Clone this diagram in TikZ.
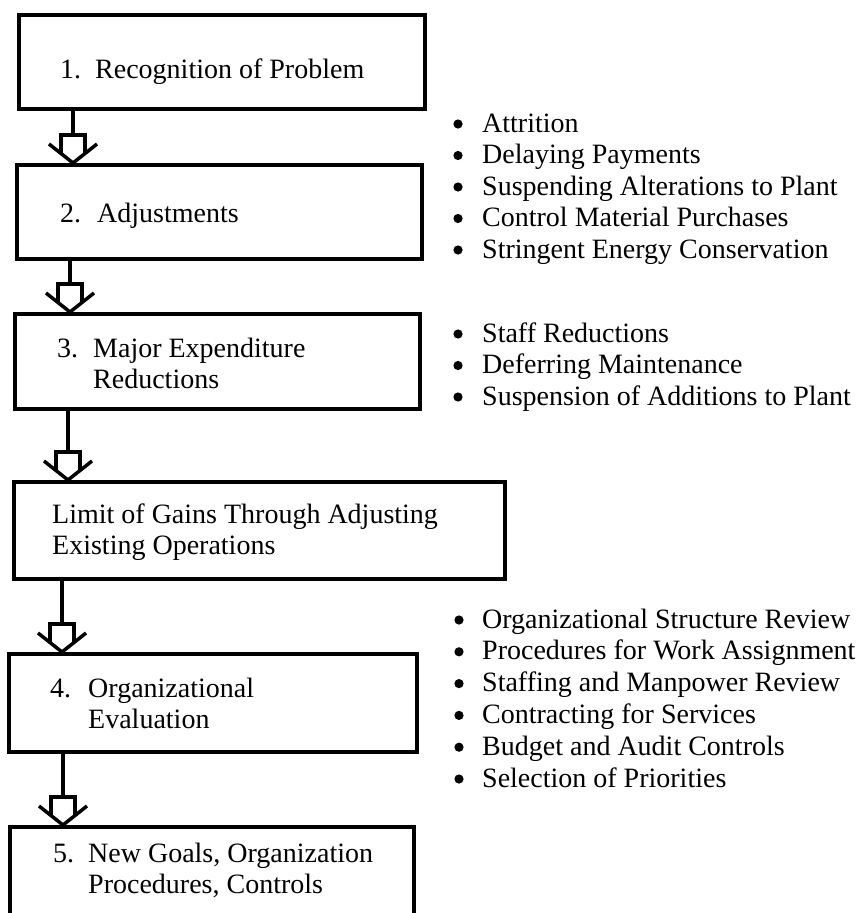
\documentclass[tikz,border=0pt]{standalone}
\usepackage{fontspec}
\setmainfont{Liberation Serif}
\tikzset{
  box/.style={draw, line width=3.5pt, rectangle, inner sep=0pt, anchor=north west},
  boxtext/.style={anchor=base west, inner sep=0pt, font=\fontsize{28}{31.5}\selectfont},
  listtext/.style={anchor=base west, inner sep=0pt, font=\fontsize{28}{31.5}\selectfont},
  stemline/.style={line width=3.5pt},
  headline/.style={line width=3.5pt, line join=miter},
  bulletdot/.style={fill=black},
}
\newcommand\flowarrow[3]{%
  \coordinate (tip#2) at (#3,0 |- #2.north);
  \draw[stemline] (#3,0 |- #1.south) -- ([shift={(0,-28)}]tip#2);
  \draw[headline] ([shift={(-24,-19)}]tip#2) -- (tip#2) -- ([shift={(24,-19)}]tip#2);
  \draw[headline] ([shift={(-12,-9.5)}]tip#2) -- ([shift={(-12,-28)}]tip#2) -- ([shift={(12,-28)}]tip#2) -- ([shift={(12,-9.5)}]tip#2);
}
\begin{document}
\begin{tikzpicture}[x=1pt,y=-1pt]
\useasboundingbox (0,0) rectangle (856,913);
\fill[white] (0,0) rectangle (856,913);
\clip (0,0) rectangle (856,913);

% boxes
\node[box, minimum width=406pt, minimum height=94pt] (b1) at (17,13) {};
\node[box, minimum width=405pt, minimum height=94pt] (b2) at (15,163) {};
\node[box, minimum width=405pt, minimum height=95pt] (b3) at (13,312) {};
\node[box, minimum width=491pt, minimum height=97pt] (b4) at (12,480) {};
\node[box, minimum width=408pt, minimum height=98pt] (b5) at (7,652) {};
\node[box, minimum width=404pt, minimum height=150pt] (b6) at (8,825) {};

% box texts
\node[boxtext] (t1) at (60,78) {\begin{tabular}[t]{@{}l@{}l@{}}\makebox[35pt][l]{1.}&Recognition of Problem\end{tabular}};
\node[boxtext] (t2) at (60,222) {\begin{tabular}[t]{@{}l@{}l@{}}\makebox[37pt][l]{2.}&Adjustments\end{tabular}};
\node[boxtext] (t3) at (57,357) {\begin{tabular}[t]{@{}l@{}l@{}}\makebox[36pt][l]{3.}&Major Expenditure\\&Reductions\end{tabular}};
\node[boxtext] (t4) at (52,523) {\begin{tabular}[t]{@{}l@{}}Limit of Gains Through Adjusting\\Existing Operations\end{tabular}};
\node[boxtext] (t5) at (50,697) {\begin{tabular}[t]{@{}l@{}l@{}}\makebox[38pt][l]{4.}&Organizational\\&Evaluation\end{tabular}};
\node[boxtext] (t6) at (53,862) {\begin{tabular}[t]{@{}l@{}l@{}}\makebox[35pt][l]{5.}&New Goals, Organization\\&Procedures, Controls\end{tabular}};

% connectors
\flowarrow{b1}{b2}{73}
\flowarrow{b2}{b3}{70}
\flowarrow{b3}{b4}{68}
\flowarrow{b4}{b5}{62}
\flowarrow{b5}{b6}{63}

% lists
\node[listtext] (l1) at (482,132) {\begin{tabular}[t]{@{}l@{}}
Attrition\\
Delaying Payments\\
Suspending Alterations to Plant\\
Control Material Purchases\\
Stringent Energy Conservation
\end{tabular}};
\foreach \yy in {0,1,2,3,4} \fill[bulletdot] (458,124+31.5*\yy) circle (4.6);
\node[listtext] (l2) at (482,342) {\begin{tabular}[t]{@{}l@{}}
Staff Reductions\\
Deferring Maintenance\\
Suspension of Additions to Plant
\end{tabular}};
\foreach \yy in {0,1,2} \fill[bulletdot] (458,334+31.5*\yy) circle (4.6);
\node[listtext, font=\fontsize{28}{31.8}\selectfont] (l3) at (482,628) {\begin{tabular}[t]{@{}l@{}}
Organizational Structure Review\\
Procedures for Work Assignment\\
Staffing and Manpower Review\\
Contracting for Services\\
Budget and Audit Controls\\
Selection of Priorities
\end{tabular}};
\foreach \yy in {0,1,2,3,4,5} \fill[bulletdot] (459,620+31.8*\yy) circle (4.6);
\end{tikzpicture}
\end{document}
